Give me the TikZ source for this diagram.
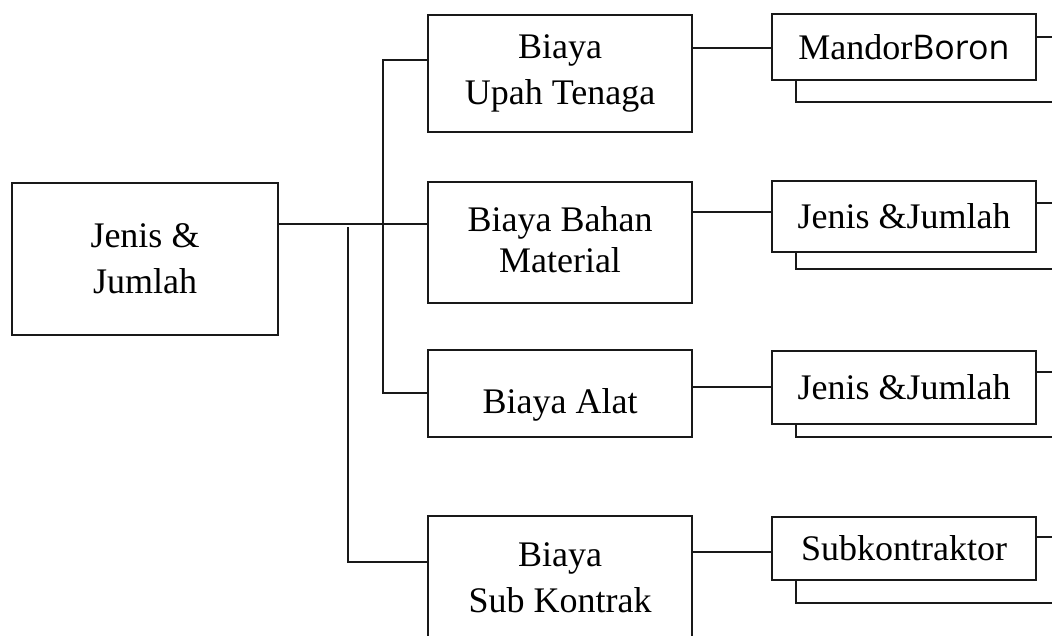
\documentclass[tikz,border=0pt]{standalone}
\usepackage{fontspec}
\setmainfont{Liberation Serif}
\newfontfamily\sansb{Open Sans}
\begin{document}
\begin{tikzpicture}[x=1pt,y=-1pt,
  box/.style={draw=black!90,line width=2pt,fill=white,rectangle,inner sep=0pt,align=center,
    font=\fontsize{36}{46}\selectfont},
  conn/.style={draw=black!90,line width=2pt}]
\useasboundingbox (0,0) rectangle (1052,635);
\clip (0,0) rectangle (1052,635);
% nodes
\node[box,minimum width=266pt,minimum height=152pt] (main) at (145,259) {Jenis \&\\Jumlah};
\node[box,minimum width=264pt,minimum height=117pt] (c2a) at (560,73.5) {Biaya\\Upah Tenaga};
\node[box,minimum width=264pt,minimum height=121pt,font=\fontsize{36}{41}\selectfont] (c2b) at (560,242.5) {Biaya Bahan\\Material\rule[-5pt]{0pt}{1pt}};
\node[box,minimum width=264pt,minimum height=87pt] (c2c) at (560,393.5) {\rule{0pt}{47pt}Biaya Alat};
\node[box,minimum width=264pt,minimum height=124pt] (c2d) at (560,578) {Biaya\\Sub Kontrak};
% column 3 back shapes
\coordinate (s1) at (796,102);
\coordinate (s2) at (796,269);
\coordinate (s3) at (796,437);
\coordinate (s4) at (796,603);
\coordinate (e1) at (1052,102);
\coordinate (e2) at (1052,269);
\coordinate (e3) at (1052,437);
\coordinate (e4) at (1052,603);
\node[box,minimum width=264pt,minimum height=66pt] (c3a) at (904,47) {Mandor{\sansb\fontsize{34}{40}\selectfont Boron}};
\node[box,minimum width=264pt,minimum height=71pt] (c3b) at (904,216.5) {Jenis \&Jumlah};
\node[box,minimum width=264pt,minimum height=73pt] (c3c) at (904,387.5) {Jenis \&Jumlah};
\node[box,minimum width=264pt,minimum height=63pt] (c3d) at (904,548.5) {Subkontraktor};
\draw[conn] (c3a.south west -| s1) -- (s1) -- (e1);
\draw[conn] (c3b.south west -| s2) -- (s2) -- (e2);
\draw[conn] (c3c.south west -| s3) -- (s3) -- (e3);
\draw[conn] (c3d.south west -| s4) -- (s4) -- (e4);
% right stubs
\coordinate (r1) at (1052,37);
\coordinate (r2) at (1052,203);
\coordinate (r3) at (1052,372);
\coordinate (r4) at (1052,537);
\draw[conn] (c3a.east |- r1) -- (r1);
\draw[conn] (c3b.east |- r2) -- (r2);
\draw[conn] (c3c.east |- r3) -- (r3);
\draw[conn] (c3d.east |- r4) -- (r4);
% left tree
\coordinate (j) at (383,224);
\coordinate (v1top) at (383,60);
\coordinate (v1bot) at (383,393);
\coordinate (v2top) at (348,227);
\coordinate (v2bot) at (348,562);
\draw[conn] (main.east |- j) -- (c2b.west |- j);
\draw[conn] (c2a.west |- v1top) -- (v1top) -- (v1bot) -- (c2c.west |- v1bot);
\draw[conn] (v2top) -- (v2bot) -- (c2d.west |- v2bot);
% column 2 to column 3
\coordinate (h1) at (700,48);
\coordinate (h2) at (700,212);
\coordinate (h3) at (700,387);
\coordinate (h4) at (700,552);
\draw[conn] (c2a.east |- h1) -- (c3a.west |- h1);
\draw[conn] (c2b.east |- h2) -- (c3b.west |- h2);
\draw[conn] (c2c.east |- h3) -- (c3c.west |- h3);
\draw[conn] (c2d.east |- h4) -- (c3d.west |- h4);
\end{tikzpicture}
\end{document}
